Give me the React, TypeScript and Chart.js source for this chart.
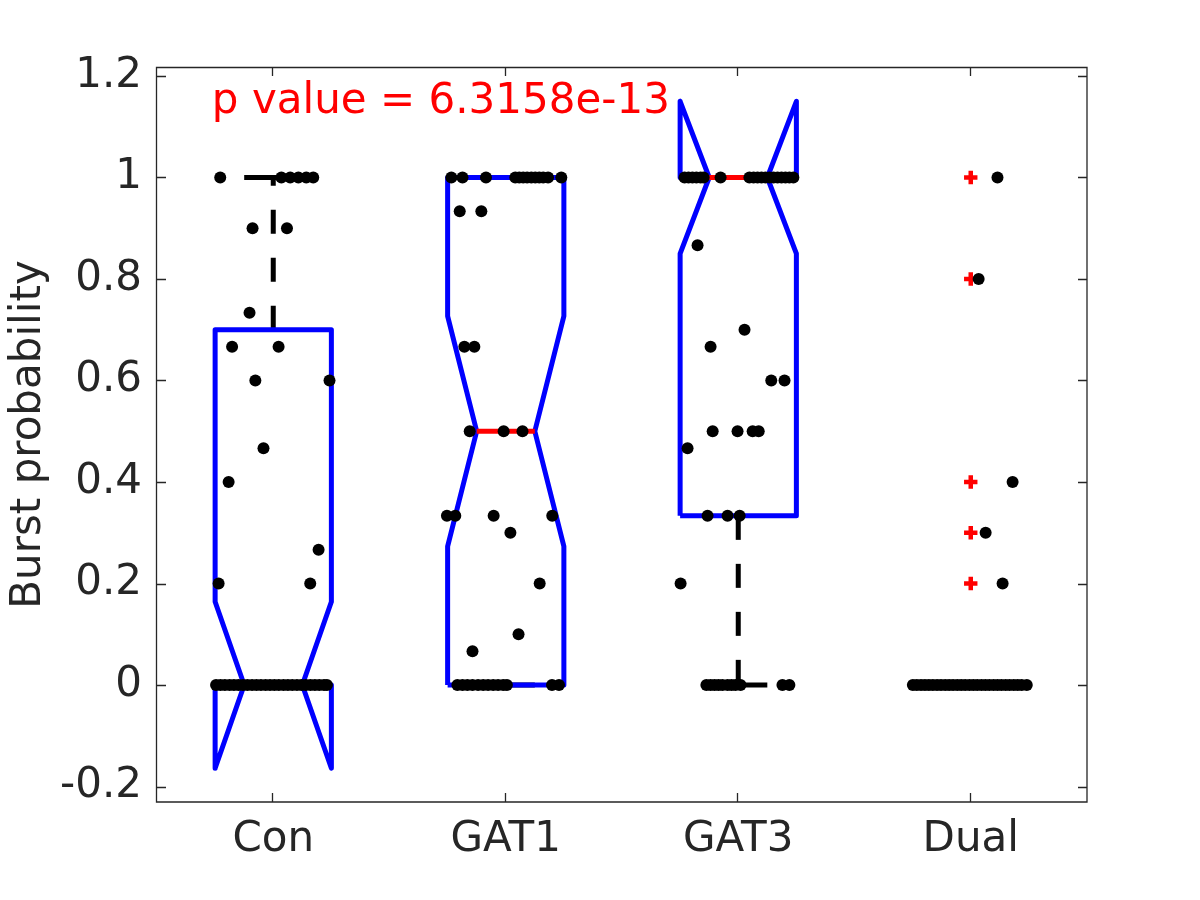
import React, { useEffect, useRef } from "react";
import { Chart, registerables } from "chart.js";

Chart.register(...registerables);

// ---------- data ----------
const categories = ["Con", "GAT1", "GAT3", "Dual"];
const yTickValues = [-0.2, 0, 0.2, 0.4, 0.6, 0.8, 1, 1.2];

// box statistics per group
const q1 = [0, 0, 0.3333, 0];
const medians = [0, 0.5, 1, 0];
const q3 = [0.7, 1, 1, 0];
const whiskerLow = [0, 0, 0, 0];
const whiskerHigh = [1, 1, 1, 0];
const notchHalf = [0.164, 0.227, 0.15, 0];

// outliers (red +) drawn for group "Dual"
const outlierGroupIndex = 3;
const outlierValues = [1, 0.8, 0.4, 0.3, 0.2];

// jittered raw points (value, horizontal jitter in category units)
const conValues = [
  1, 1, 1, 1, 1, 1, 0.9, 0.9, 0.7333, 0.6667, 0.6667, 0.6, 0.6, 0.4667, 0.4,
  0.2667, 0.2, 0.2,
  0, 0, 0, 0, 0, 0, 0, 0, 0, 0, 0, 0, 0, 0, 0, 0, 0, 0, 0, 0, 0, 0, 0, 0, 0, 0,
];
const conJitter = [
  -0.228, 0.035, 0.073, 0.108, 0.142, 0.172, -0.089, 0.059, -0.102, -0.177,
  0.023, -0.077, 0.242, -0.042, -0.192, 0.195, -0.235, 0.159,
  -0.246, -0.227, -0.208, -0.188, -0.169, -0.15, -0.13, -0.111, -0.091, -0.072,
  -0.053, -0.033, -0.014, 0.005, 0.024, 0.044, 0.063, 0.082, 0.102, 0.121,
  0.14, 0.16, 0.179, 0.198, 0.218, 0.231,
];

const gat1Values = [
  1, 1, 1, 1, 1, 1, 1, 1, 1, 1, 1, 1, 1, 0.9333, 0.9333, 0.6667, 0.6667, 0.5,
  0.5, 0.5, 0.3333, 0.3333, 0.3333, 0.3333, 0.3, 0.2, 0.1, 0.0667,
  0, 0, 0, 0, 0, 0, 0, 0, 0, 0, 0, 0, 0,
];
const gat1Jitter = [
  -0.234, -0.186, -0.085, 0.041, 0.058, 0.075, 0.092, 0.11, 0.127, 0.144,
  0.161, 0.182, 0.239, -0.198, -0.105, -0.178, -0.135, -0.155, -0.009, 0.072,
  -0.253, -0.217, -0.052, 0.2, 0.02, 0.146, 0.055, -0.143,
  -0.208, -0.186, -0.165, -0.143, -0.119, -0.097, -0.076, -0.054, -0.033,
  -0.011, 0.005, 0.199, 0.229,
];

const gat3Values = [
  1, 1, 1, 1, 1, 1, 1, 1, 1, 1, 1, 1, 1, 1, 1, 1, 1, 1, 1, 0.8667, 0.7,
  0.6667, 0.6, 0.6, 0.5, 0.5, 0.5, 0.5, 0.4667, 0.3333, 0.3333, 0.3333, 0.2,
  0, 0, 0, 0, 0, 0, 0, 0, 0, 0, 0,
];
const gat3Jitter = [
  -0.231, -0.214, -0.197, -0.18, -0.162, -0.149, -0.076, 0.048, 0.066, 0.083,
  0.1, 0.117, 0.134, 0.152, 0.169, 0.186, 0.203, 0.22, 0.237, -0.175, 0.027,
  -0.119, 0.142, 0.199, -0.11, -0.003, 0.062, 0.088, -0.218, -0.132, -0.046,
  0.006, -0.248,
  -0.137, -0.119, -0.102, -0.085, -0.068, -0.046, -0.029, -0.012, 0.01, 0.19,
  0.22,
];

const dualValues = [
  1, 0.8, 0.4, 0.3, 0.2,
  0, 0, 0, 0, 0, 0, 0, 0, 0, 0, 0, 0, 0, 0, 0, 0, 0, 0, 0, 0, 0, 0, 0, 0, 0, 0,
  0, 0, 0,
];
const dualJitter = [
  0.115, 0.034, 0.18, 0.064, 0.137,
  -0.249, -0.232, -0.214, -0.197, -0.18, -0.163, -0.145, -0.128, -0.11, -0.093,
  -0.076, -0.058, -0.041, -0.024, -0.006, 0.011, 0.028, 0.046, 0.063, 0.08,
  0.098, 0.115, 0.132, 0.15, 0.167, 0.185, 0.202, 0.219, 0.241,
];

const pValueLabel = "p value = 6.3158e-13";
const pValueAnchor = { x: 0.736, y: 1.1264 };

// ---------- styling ----------
const FONT = "DejaVu Sans";
const FONT_SIZE = 42;
const AXIS_COLOR = "#262626";
const BLUE = "#0000ff";
const RED = "#ff0000";
const BOX_HALF = 0.25;
const NOTCH_INSET = 0.125;
const CAP_HALF = 0.125;
const LINE_W = 5;

const groupValues = [conValues, gat1Values, gat3Values, dualValues];
const groupJitter = [conJitter, gat1Jitter, gat3Jitter, dualJitter];

function lineDataset(data: { x: number; y: number }[], color: string, order: number, dash: number[] = []) {
  return {
    type: "scatter" as const,
    data,
    showLine: true,
    borderColor: color,
    backgroundColor: color,
    borderWidth: LINE_W,
    borderDash: dash,
    borderJoinStyle: "round" as const,
    pointRadius: 0,
    pointHoverRadius: 0,
    fill: false,
    tension: 0,
    order,
  };
}

function buildDatasets() {
  const ds: any[] = [];
  categories.forEach((_, g) => {
    const c = g + 1;
    // whiskers
    ds.push(lineDataset([{ x: c, y: q3[g] }, { x: c, y: whiskerHigh[g] }], "#000000", 6, [24, 24]));
    ds.push(lineDataset([{ x: c, y: q1[g] }, { x: c, y: whiskerLow[g] }], "#000000", 6, [24, 24]));
    // caps
    ds.push(lineDataset([{ x: c - CAP_HALF, y: whiskerHigh[g] }, { x: c + CAP_HALF, y: whiskerHigh[g] }], "#000000", 6));
    ds.push(lineDataset([{ x: c - CAP_HALF, y: whiskerLow[g] }, { x: c + CAP_HALF, y: whiskerLow[g] }], "#000000", 6));
    // notched box
    const L = c - BOX_HALF;
    const R = c + BOX_HALF;
    const m = medians[g];
    const n = notchHalf[g];
    ds.push(
      lineDataset(
        [
          { x: L, y: q1[g] },
          { x: L, y: m - n },
          { x: c - NOTCH_INSET, y: m },
          { x: L, y: m + n },
          { x: L, y: q3[g] },
          { x: R, y: q3[g] },
          { x: R, y: m + n },
          { x: c + NOTCH_INSET, y: m },
          { x: R, y: m - n },
          { x: R, y: q1[g] },
          { x: L, y: q1[g] },
        ],
        BLUE,
        5
      )
    );
    // median
    ds.push(lineDataset([{ x: c - NOTCH_INSET, y: m }, { x: c + NOTCH_INSET, y: m }], RED, 4));
  });

  // outliers
  ds.push({
    type: "scatter",
    data: outlierValues.map((v) => ({ x: outlierGroupIndex + 1, y: v })),
    pointStyle: "cross",
    pointRadius: 6.7,
    pointBorderWidth: 4.5,
    borderColor: RED,
    backgroundColor: RED,
    order: 2,
  });

  // jittered dots
  const dots: { x: number; y: number }[] = [];
  groupValues.forEach((vals, g) => {
    vals.forEach((v, i) => dots.push({ x: g + 1 + groupJitter[g][i], y: v }));
  });
  ds.push({
    type: "scatter",
    data: dots,
    pointStyle: "circle",
    pointRadius: 6,
    pointBorderWidth: 0,
    borderWidth: 0,
    backgroundColor: "#000000",
    borderColor: "#000000",
    order: 1,
  });
  return ds;
}

const matlabAxesPlugin = {
  id: "matlabAxes",
  afterDatasetsDraw(chart: any) {
    const { ctx, scales } = chart;
    const x = scales.x;
    const y = scales.y;
    ctx.save();
    ctx.fillStyle = RED;
    ctx.font = `${FONT_SIZE}px "${FONT}"`;
    ctx.textAlign = "left";
    ctx.textBaseline = "alphabetic";
    ctx.fillText(pValueLabel, x.getPixelForValue(pValueAnchor.x), y.getPixelForValue(pValueAnchor.y));
    ctx.restore();
  },
  afterDraw(chart: any) {
    const { ctx, chartArea: a, scales } = chart;
    const x = scales.x;
    const y = scales.y;
    const T = 9;
    ctx.save();
    ctx.strokeStyle = AXIS_COLOR;
    ctx.lineWidth = 1.3;
    ctx.beginPath();
    ctx.rect(a.left - 0.5, a.top + 0.5, a.right - a.left + 0.5, a.bottom - a.top - 0.5);
    yTickValues.forEach((v) => {
      const py = Math.round(y.getPixelForValue(v)) + 0.5;
      ctx.moveTo(a.left, py);
      ctx.lineTo(a.left + T, py);
      ctx.moveTo(a.right, py);
      ctx.lineTo(a.right - T, py);
    });
    categories.forEach((_, i) => {
      const px = Math.round(x.getPixelForValue(i + 1)) - 0.5;
      ctx.moveTo(px, a.bottom);
      ctx.lineTo(px, a.bottom - T);
      ctx.moveTo(px, a.top);
      ctx.lineTo(px, a.top + T);
    });
    ctx.stroke();
    ctx.restore();
  },
};

export default function App() {
  const canvasRef = useRef<HTMLCanvasElement | null>(null);

  useEffect(() => {
    if (!canvasRef.current) return;
    const tickFont = { family: FONT, size: FONT_SIZE };
    const chart = new Chart(canvasRef.current, {
      type: "scatter",
      data: { datasets: buildDatasets() },
      options: {
        animation: false,
        responsive: false,
        devicePixelRatio: 1,
        layout: { padding: { left: 0, right: 113, top: 67, bottom: 0 } },
        plugins: {
          legend: { display: false },
          tooltip: { enabled: false },
        },
        scales: {
          x: {
            type: "linear",
            min: 0.5,
            max: 4.5,
            grid: { display: false, drawTicks: false, tickLength: 0 },
            border: { display: false },
            afterBuildTicks: (s: any) => {
              s.ticks = categories.map((_, i) => ({ value: i + 1 }));
            },
            afterFit: (s: any) => {
              s.height = 98;
            },
            ticks: {
              autoSkip: false,
              maxRotation: 0,
              minRotation: 0,
              padding: 13,
              color: AXIS_COLOR,
              font: tickFont,
              callback: (v: any) => categories[Math.round(Number(v)) - 1] ?? "",
            },
          },
          y: {
            type: "linear",
            min: -0.2305,
            max: 1.2177,
            grid: { display: false, drawTicks: false, tickLength: 0 },
            border: { display: false },
            afterBuildTicks: (s: any) => {
              s.ticks = yTickValues.map((v) => ({ value: v }));
            },
            afterFit: (s: any) => {
              s.width = 157;
            },
            ticks: {
              padding: 15,
              color: AXIS_COLOR,
              font: tickFont,
              callback: (v: any) => String(Number(Number(v).toFixed(1))),
            },
            title: {
              display: true,
              text: "Burst probability",
              color: AXIS_COLOR,
              font: tickFont,
              padding: { top: 4, bottom: 0 },
            },
          },
        },
      },
      plugins: [matlabAxesPlugin],
    } as any);
    return () => chart.destroy();
  }, []);

  return (
    <div style={{ position: "absolute", left: 0, top: 0, width: 1200, height: 900, background: "#ffffff" }}>
      <canvas ref={canvasRef} width={1200} height={900} style={{ display: "block", width: 1200, height: 900 }} />
    </div>
  );
}
